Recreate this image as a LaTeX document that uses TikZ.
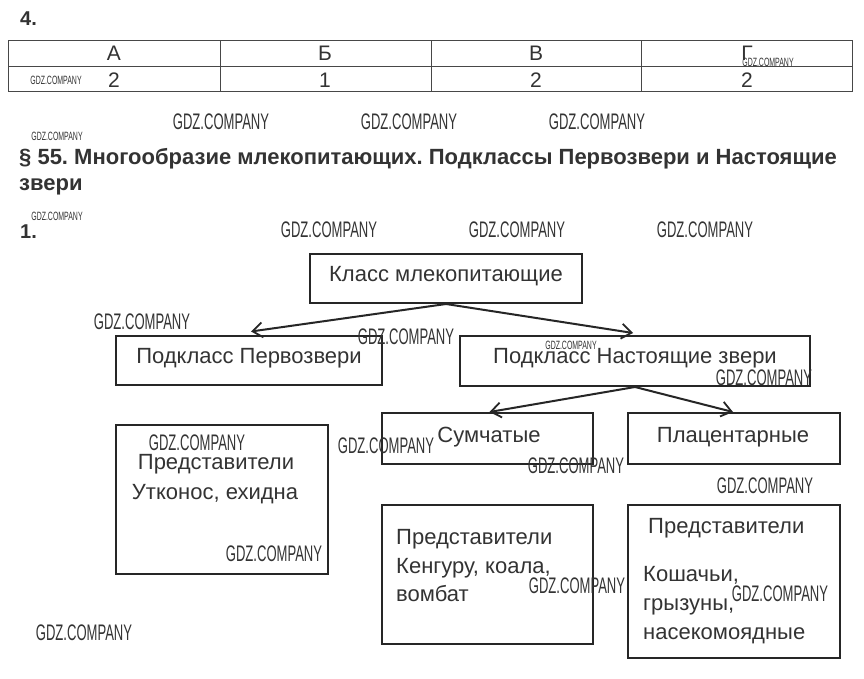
\documentclass[tikz,border=0pt]{standalone}
\usepackage{fontspec}
\setmainfont{Liberation Sans}
\newfontfamily\wmfont[FakeStretch=0.58]{Liberation Sans}
\usetikzlibrary{arrows.meta}
\definecolor{ink}{HTML}{262626}
\definecolor{txt}{HTML}{333333}
\frenchspacing
\begin{document}
\begin{tikzpicture}[x=1pt,y=-1pt,
  box/.style={draw=ink, line width=2pt, inner sep=0pt},
  tline/.style={draw=ink!85, line width=1pt},
  lbl/.style={text=txt, font=\fontsize{22}{26}\selectfont, inner sep=0pt, anchor=base},
  llbl/.style={lbl, anchor=base west},
  arr/.style={draw=ink, line width=2pt, -{Straight Barb[length=10pt,width=15pt,line width=1.8pt]}},
  wm/.style={text=txt, font=\wmfont\fontsize{22.5}{22.5}\selectfont, inner sep=0pt},
  wms/.style={text=txt, font=\wmfont\fontsize{12}{12}\selectfont, inner sep=0pt},
  hd/.style={text=txt, font=\bfseries\fontsize{20}{24}\selectfont, inner sep=0pt, anchor=base west},
  ttl/.style={text=txt, font=\bfseries\fontsize{22}{24}\selectfont, inner sep=0pt, anchor=base west},
  cell/.style={text=txt, font=\fontsize{21}{24}\selectfont, inner sep=0pt, anchor=base}
]
\useasboundingbox[fill=white] (0,0) rectangle (864,679);

% heading "4." and table
\node[hd] (n4) at (20,26) {4.};
\draw[tline] (8,41) rectangle (852,92);
\draw[tline] (8,67) -- (852,67);
\draw[tline] (220,41) -- (220,92);
\draw[tline] (431,41) -- (431,92);
\draw[tline] (641,41) -- (641,92);
\node[cell] (hA) at (114,61) {А};
\node[cell] (hB) at (325,61) {Б};
\node[cell] (hV) at (536,61) {В};
\node[cell] (hG) at (747,61) {Г};
\node[cell] (vA) at (114,88) {2};
\node[cell] (vB) at (325,88) {1};
\node[cell] (vV) at (536,88) {2};
\node[cell] (vG) at (747,88) {2};

% section title
\node[ttl] (t1) at (19,165) {§ 55. Многообразие млекопитающих. Подклассы Первозвери и Настоящие};
\node[ttl] (t2) at (19,190) {звери};
\node[hd] (n1) at (20,238) {1.};

% boxes
\node[box, minimum width=272pt, minimum height=49pt] (klass) at (446,278.5) {};
\node[box, minimum width=266pt, minimum height=49pt] (perv) at (249,360) {};
\node[box, minimum width=350pt, minimum height=50pt] (nast) at (635,361) {};
\node[box, minimum width=211pt, minimum height=51pt] (sum) at (487.5,438.5) {};
\node[box, minimum width=212pt, minimum height=51pt] (plac) at (734,438.5) {};
\node[box, minimum width=212pt, minimum height=149pt] (rp1) at (222,499.5) {};
\node[box, minimum width=211pt, minimum height=139pt] (rp2) at (487.5,574.5) {};
\node[box, minimum width=212pt, minimum height=153pt] (rp3) at (734,581.5) {};

% box texts
\node[lbl] (tk) at (446,281) {Класс млекопитающие};
\node[lbl] (tp) at (249,363) {Подкласс Первозвери};
\node[lbl] (tn) at (635,363) {Подкласс Настоящие звери};
\node[lbl] (ts) at (489,442) {Сумчатые};
\node[lbl] (tpl) at (733,442) {Плацентарные};
\node[lbl] (r1a) at (216,469) {Представители};
\node[lbl] (r1b) at (215,499) {Утконос, ехидна};
\node[llbl] (r2a) at (396,544) {Представители};
\node[llbl] (r2b) at (396,573) {Кенгуру, коала,};
\node[llbl] (r2c) at (396,601) {вомбат};
\node[llbl] (r3a) at (648,533) {Представители};
\node[llbl] (r3b) at (643,581) {Кошачьи,};
\node[llbl] (r3c) at (643,610) {грызуны,};
\node[llbl] (r3d) at (643,639) {насекомоядные};

% arrows
\draw[arr] (klass.south) -- ([yshift=3pt,xshift=2pt]perv.north);
\draw[arr] (klass.south) -- ([yshift=2pt,xshift=-2pt]nast.north);
\draw[arr] (nast.south) -- ([xshift=2pt]sum.north);
\draw[arr] (nast.south) -- ([xshift=-1pt]plac.north);

% watermarks
\node[wms] (w1) at (56,80) {GDZ.COMPANY};
\node[wms] (w2) at (768,62) {GDZ.COMPANY};
\node[wms] (w3) at (57,136) {GDZ.COMPANY};
\node[wms] (w4) at (57,216) {GDZ.COMPANY};
\node[wms] (w5) at (571,345) {GDZ.COMPANY};
\node[wm] (W1) at (221,122) {GDZ.COMPANY};
\node[wm] (W2) at (409,122) {GDZ.COMPANY};
\node[wm] (W3) at (597,122) {GDZ.COMPANY};
\node[wm] (W4) at (329,230) {GDZ.COMPANY};
\node[wm] (W5) at (517,230) {GDZ.COMPANY};
\node[wm] (W6) at (705,230) {GDZ.COMPANY};
\node[wm] (W7) at (142,322) {GDZ.COMPANY};
\node[wm] (W8) at (406,337) {GDZ.COMPANY};
\node[wm] (W9) at (764,378) {GDZ.COMPANY};
\node[wm] (W10) at (197,443) {GDZ.COMPANY};
\node[wm] (W11) at (386,446) {GDZ.COMPANY};
\node[wm] (W12) at (576,466) {GDZ.COMPANY};
\node[wm] (W13) at (765,486) {GDZ.COMPANY};
\node[wm] (W14) at (274,554) {GDZ.COMPANY};
\node[wm] (W15) at (577,586) {GDZ.COMPANY};
\node[wm] (W16) at (780,594) {GDZ.COMPANY};
\node[wm] (W17) at (84,633) {GDZ.COMPANY};
\end{tikzpicture}
\end{document}
